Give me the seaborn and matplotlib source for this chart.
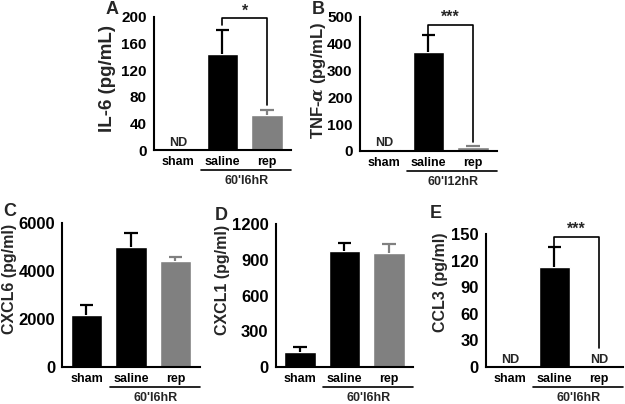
import numpy as np
import pandas as pd
import matplotlib
matplotlib.use("Agg")
import matplotlib.pyplot as plt
import seaborn as sns

sns.set_theme(style="white")
plt.rcParams['font.family'] = ['Liberation Sans', 'DejaVu Sans']
plt.rcParams['font.weight'] = 'bold'
plt.rcParams['axes.labelweight'] = 'bold'
plt.rcParams['mathtext.fontset'] = 'dejavuserif'

# === data ===
groups = ['sham', 'saline', 'rep']

il6_mean = [0, 145, 53]
il6_err = [0, 35, 7]

tnf_mean = [6, 370, 14]
tnf_err = [0, 62, 4]

cxcl6_mean = [2150, 4980, 4420]
cxcl6_err = [450, 600, 180]

cxcl1_mean = [125, 975, 960]
cxcl1_err = [45, 65, 70]

ccl3_mean = [0, 113, 0]
ccl3_err = [0, 22, 0]

bar_colors = ['#000000', '#000000', '#808080']

W, H = 625, 404
fig = plt.figure(figsize=(W / 100, H / 100), dpi=100)


def px(x, y):
    return x / W, 1 - y / H


def panel(letter, letter_xy, left, top, bottom, means, errs, ymax, yticks,
          ylabel, ylabel_xy, ylabel_size, ytick_size, group_label, nd=(), sig=None):
    unit = 44.5
    xlo, xhi = -0.55, 2.55
    width = (xhi - xlo) * unit
    ax = fig.add_axes([left / W, 1 - bottom / H, width / W, (bottom - top) / H])

    df = pd.DataFrame({'group': groups, 'value': means})
    sns.barplot(data=df, x='group', y='value', hue='group', palette=bar_colors,
                order=groups, legend=False, width=0.7, ax=ax, saturation=1)

    # upper error bars only (Prism style)
    for i in range(3):
        if errs[i] > 0:
            top_v = means[i] + errs[i]
            ax.vlines(i, means[i], top_v, color=bar_colors[i], lw=1.6)
            ax.hlines(top_v, i - 0.15, i + 0.15, color=bar_colors[i], lw=1.6)

    ax.set_xlim(xlo, xhi)
    ax.set_ylim(0, ymax)
    ax.set_yticks(yticks)
    ax.set_yticklabels([str(t) for t in yticks], fontsize=ytick_size, fontweight='bold')
    ax.set_xticks(range(3))
    ax.set_xticklabels(groups, fontsize=9, fontweight='bold')
    ax.set_xlabel('')
    ax.set_ylabel('')
    for s in ['top', 'right']:
        ax.spines[s].set_visible(False)
    for s in ['left', 'bottom']:
        ax.spines[s].set_linewidth(1.5)
        ax.spines[s].set_color('black')
    ax.tick_params(axis='y', direction='out', length=4, width=1.5, pad=1, colors='black')
    ax.tick_params(axis='x', direction='out', length=3, width=1.5, pad=1.5, colors='black')

    # ND marks
    for i in nd:
        ax.text(i, means[i] + ymax * 0.005, 'ND', ha='center', va='bottom',
                fontsize=9, fontweight='bold')

    # group bracket under saline/rep
    tr = ax.get_xaxis_transform()
    hpx = bottom - top
    ax.plot([0.52, xhi], [-20 / hpx, -20 / hpx], color='black', lw=1.2,
            transform=tr, clip_on=False)
    ax.text(1.55, -31 / hpx, group_label, ha='center', va='center', fontsize=9,
            fontweight='bold', transform=tr)

    # significance bracket
    if sig is not None:
        y_left, y_top, y_right, stars = sig
        ax.plot([1, 1, 2, 2], [y_left, y_top, y_top, y_right], color='black',
                lw=1.2, clip_on=False)
        ax.text(1.5, y_top, stars, ha='center', va='bottom', fontsize=11.5,
                fontweight='bold')

    fig.text(*px(*letter_xy), letter, ha='center', va='center', fontsize=13,
             fontweight='bold')
    fig.text(*px(*ylabel_xy), ylabel, ha='center', va='center', rotation=90,
             fontsize=ylabel_size, fontweight='bold')
    return ax


panel('A', (112, 10), 153.5, 17, 150, il6_mean, il6_err, 200,
      [0, 40, 80, 120, 160, 200], 'IL-6 (pg/mL)', (108, 78), 13.5, 11,
      "60'I6hR", nd=[0], sig=(188, 198, 68, '*'))

panel('B', (318, 9), 359.5, 17, 151, tnf_mean, tnf_err, 500,
      [0, 100, 200, 300, 400, 500], r'TNF-$\alpha$ (pg/mL)', (318, 80), 12, 11,
      "60'I12hR", nd=[0], sig=(433, 470, 34, '***'))

panel('C', (10, 212), 62, 223, 367, cxcl6_mean, cxcl6_err, 6000,
      [0, 2000, 4000, 6000], 'CXCL6 (pg/ml)', (10, 279), 11.5, 12, "60'I6hR")

panel('D', (221, 215), 275.5, 224, 367, cxcl1_mean, cxcl1_err, 1200,
      [0, 300, 600, 900, 1200], 'CXCL1 (pg/ml)', (222, 280), 11.5, 12, "60'I6hR")

panel('E', (436, 213), 485.5, 234, 367, ccl3_mean, ccl3_err, 150,
      [0, 30, 60, 90, 120, 150], 'CCL3 (pg/ml)', (440, 282), 11.5, 12, "60'I6hR",
      nd=[0, 2], sig=(135, 146.6, 21, '***'))

fig.savefig('out.png', dpi=100)
